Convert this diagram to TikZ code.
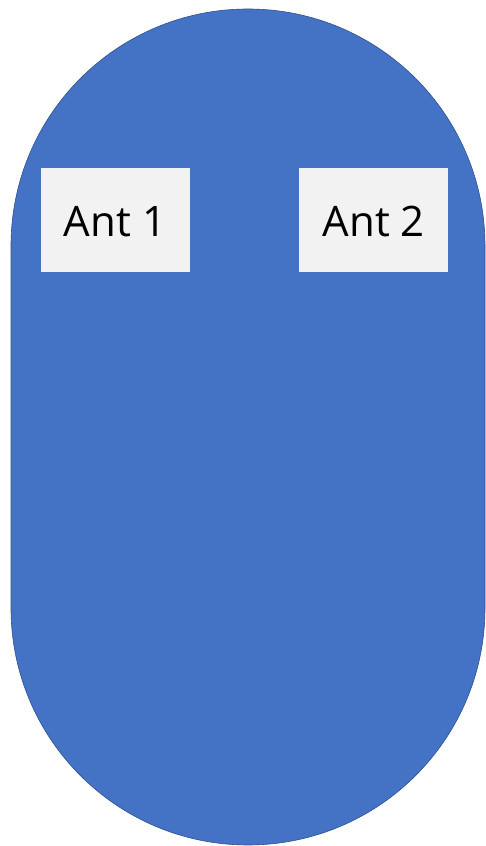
\documentclass[tikz,border=0pt]{standalone}
\usepackage{fontspec}
\setmainfont{Open Sans}
\definecolor{bodyblue}{HTML}{4472C4}
\definecolor{edgeblue}{HTML}{2F528F}
\definecolor{boxgray}{HTML}{F2F2F2}
\begin{document}
\begin{tikzpicture}[x=1pt,y=1pt,
  antbox/.style={fill=boxgray, draw=none, minimum width=149pt, minimum height=104.6pt, inner sep=0pt, text height=34pt, text depth=0pt, font=\fontsize{42}{50}\selectfont, text=black}]
\useasboundingbox (0,0) rectangle (486,846);
\fill[white] (0,0) rectangle (486,846);
\filldraw[fill=bodyblue, draw=edgeblue, line width=0.6pt]
  (11,238) -- (11,600) arc[start angle=180, end angle=0, radius=237]
  -- (485,238) arc[start angle=0, end angle=-180, radius=237] -- cycle;
\node[antbox] (ant1) at (115,626) {Ant 1};
\node[antbox] (ant2) at (373.8,626) {Ant 2};
\end{tikzpicture}
\end{document}
